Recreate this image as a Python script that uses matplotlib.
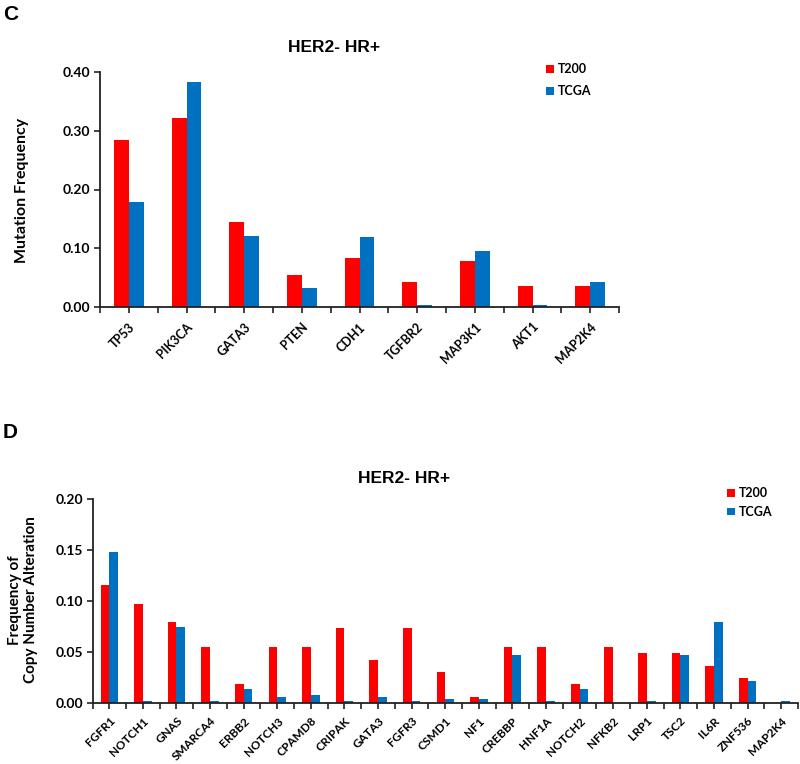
import numpy as np
import matplotlib
matplotlib.use("Agg")
import matplotlib.pyplot as plt

# ─── Data ─────────────────────────────────────────────────────────────────────

mut_genes = ["TP53", "PIK3CA", "GATA3", "PTEN", "CDH1", "TGFBR2", "MAP3K1",
             "AKT1", "MAP2K4"]
mut_t200 = [0.285, 0.321, 0.145, 0.054, 0.084, 0.042, 0.078, 0.036, 0.036]
mut_tcga = [0.178, 0.383, 0.121, 0.033, 0.119, 0.003, 0.095, 0.003, 0.042]

cna_genes = ["FGFR1", "NOTCH1", "GNAS", "SMARCA4", "ERBB2", "NOTCH3", "CPAMD8",
             "CRIPAK", "GATA3", "FGFR3", "CSMD1", "NF1", "CREBBP", "HNF1A",
             "NOTCH2", "NFKB2", "LRP1", "TSC2", "IL6R", "ZNF536", "MAP2K4"]
cna_t200 = [0.115, 0.097, 0.079, 0.055, 0.018, 0.055, 0.055, 0.073, 0.042,
            0.073, 0.030, 0.006, 0.055, 0.055, 0.018, 0.055, 0.049, 0.049,
            0.036, 0.024, 0.000]
cna_tcga = [0.148, 0.002, 0.074, 0.002, 0.013, 0.006, 0.008, 0.002, 0.006,
            0.002, 0.004, 0.004, 0.047, 0.002, 0.013, 0.000, 0.002, 0.047,
            0.079, 0.021, 0.002]

RED = "#ff0000"
BLUE = "#0070c0"
LABEL_FONT = ["Lato", "DejaVu Sans"]
TITLE_FONT = ["Liberation Sans", "DejaVu Sans"]


# ─── Helpers ──────────────────────────────────────────────────────────────────

def draw_panel(ax, genes, t200, tcga, yticks, legend_xy, labelspacing,
               xfont=9, xpad=6):
    x = np.arange(len(genes))
    w = 0.26
    b1 = ax.bar(x - w / 2, t200, width=w, color=RED, label="T200")
    b2 = ax.bar(x + w / 2, tcga, width=w, color=BLUE, label="TCGA")

    ax.set_xlim(-0.5, len(genes) - 0.5)
    ax.set_ylim(0, yticks[-1])
    ax.set_yticks(yticks)
    ax.set_yticklabels([f"{v:.2f}" for v in yticks], fontsize=10,
                       fontweight="bold", family=LABEL_FONT)
    ax.set_xticks(x)
    ax.set_xticklabels(genes, rotation=45, ha="right", rotation_mode="anchor",
                       fontsize=xfont, fontweight="bold", family=LABEL_FONT)
    # ticks both at bar centres and between categories
    ax.set_xticks(np.arange(len(genes) + 1) - 0.5, minor=True)
    ax.tick_params(axis="x", which="both", direction="out", length=4,
                   width=1.2, color="#222222", pad=xpad)
    ax.tick_params(axis="y", direction="out", length=4, width=1.2,
                   color="#222222", pad=3)

    for side in ("top", "right"):
        ax.spines[side].set_visible(False)
    for side in ("left", "bottom"):
        ax.spines[side].set_linewidth(1.3)
        ax.spines[side].set_color("#222222")

    fig = ax.figure
    fig.legend(handles=[b1, b2], loc="upper left", bbox_to_anchor=legend_xy,
               frameon=False, handlelength=0.6, handleheight=0.6,
               handletextpad=0.35, borderpad=0, borderaxespad=0,
               labelspacing=labelspacing,
               prop={"family": LABEL_FONT, "weight": "bold", "size": 9})


# ─── Figure ───────────────────────────────────────────────────────────────────

fig = plt.figure(figsize=(8, 7.64), dpi=100)

W, H = 800, 764
ax_c = fig.add_axes([100 / W, 1 - 307 / H, 519 / W, 235 / H])
ax_d = fig.add_axes([92.5 / W, 1 - 702.7 / H, 705.5 / W, 204 / H])

draw_panel(ax_c, mut_genes, mut_t200, mut_tcga,
           [0.0, 0.1, 0.2, 0.3, 0.4], (546 / W, 1 - 63 / H), 0.8)
draw_panel(ax_d, cna_genes, cna_t200, cna_tcga,
           [0.0, 0.05, 0.10, 0.15, 0.20], (727 / W, 1 - 487 / H), 0.55,
           xfont=8.5, xpad=5)

# titles
fig.text(334 / W, 1 - 48 / H, "HER2- HR+", ha="center", va="center",
         fontsize=12.5, fontweight="bold", family=TITLE_FONT)
fig.text(404 / W, 1 - 479 / H, "HER2- HR+", ha="center", va="center",
         fontsize=12.5, fontweight="bold", family=TITLE_FONT)

# y-axis labels
fig.text(22 / W, 1 - 190 / H, "Mutation Frequency", rotation=90,
         ha="center", va="center", fontsize=11.5, fontweight="bold",
         family=LABEL_FONT)
fig.text(23 / W, 1 - 600 / H, "Frequency of\nCopy Number Alteration",
         rotation=90, ha="center", va="center", fontsize=11,
         fontweight="bold", family=LABEL_FONT, linespacing=1.2)

# panel letters
fig.text(3 / W, 1 - 14 / H, "C", ha="left", va="center", fontsize=15,
         fontweight="bold", family=TITLE_FONT)
fig.text(3 / W, 1 - 432 / H, "D", ha="left", va="center", fontsize=15,
         fontweight="bold", family=TITLE_FONT)

fig.savefig("out.png", dpi=100)
plt.close(fig)
